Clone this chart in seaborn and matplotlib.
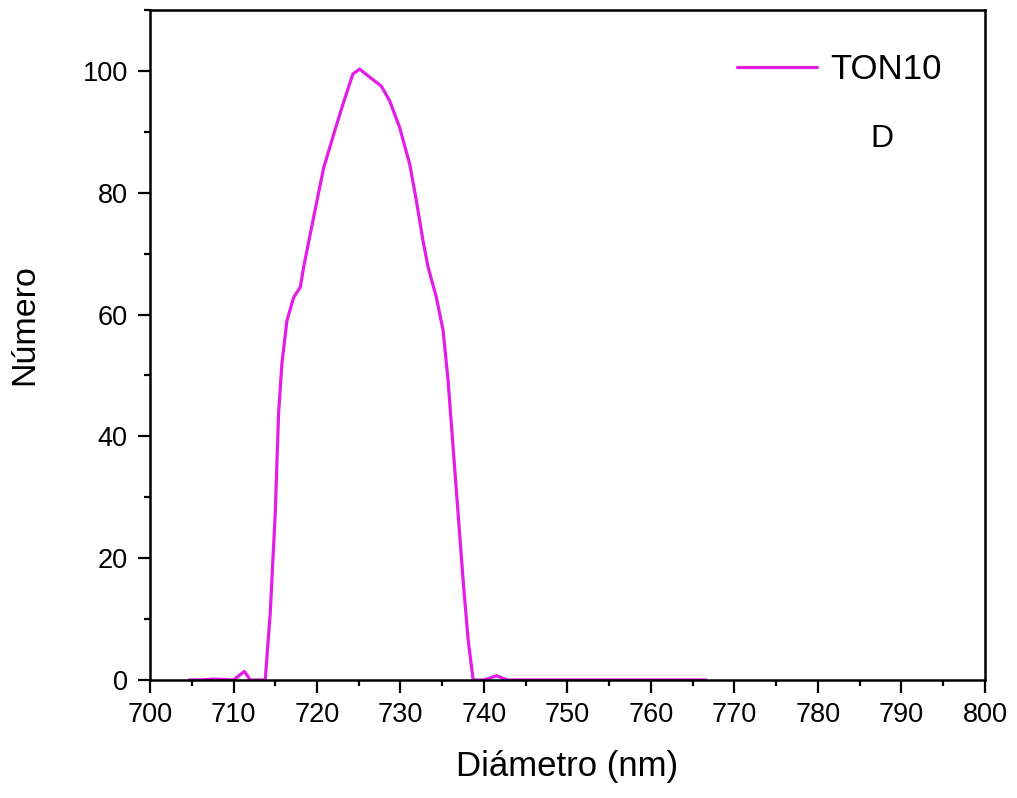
import matplotlib
matplotlib.use("Agg")
import matplotlib.pyplot as plt
from matplotlib.ticker import MultipleLocator
import seaborn as sns
import pandas as pd

diametro = [704.7, 706.0, 707.5, 708.5, 710.0, 711.3, 712.0, 713.0, 713.8, 714.4, 715.0, 715.4,
            715.8, 716.4, 717.2, 718.0, 718.4, 719.6, 720.8, 722.0, 723.1, 724.3, 725.1,
            726.1, 727.7, 728.7, 729.9, 731.1, 731.9, 732.7, 733.3, 734.3, 735.1, 735.7,
            736.3, 736.9, 737.5, 738.1, 738.7, 740.0, 741.5, 742.8, 745.0, 750.0, 755.0,
            760.0, 766.6]
numero = [0.0, 0.0, 0.15, 0.1, 0.0, 1.4, 0.0, 0.0, 0.0, 11.0, 27.4, 43.8,
          52.0, 59.0, 62.8, 64.5, 67.8, 76.0, 84.1, 89.6, 94.5, 99.5, 100.3,
          99.2, 97.5, 95.1, 90.7, 84.7, 78.7, 72.1, 67.8, 62.8, 57.4, 49.2,
          38.2, 27.3, 16.4, 6.6, 0.0, 0.0, 0.7, 0.0, 0.0, 0.0, 0.0,
          0.0, 0.0]
serie = "TON10"
panel = "D"
x_label = "Diámetro (nm)"
y_label = "Número"

df = pd.DataFrame({"Diámetro": diametro, "Número": numero, "serie": [serie] * len(diametro)})

sns.set_theme(style="ticks")
plt.rcParams["font.family"] = ["Liberation Sans", "DejaVu Sans"]
plt.rcParams["text.color"] = "black"
plt.rcParams["axes.labelcolor"] = "black"
plt.rcParams["xtick.color"] = "black"
plt.rcParams["ytick.color"] = "black"

fig = plt.figure(figsize=(10.17, 7.98), dpi=100)
ax = fig.add_axes([0.1475, 0.1479, 0.8210, 0.8396])

sns.lineplot(data=df, x="Diámetro", y="Número", hue="serie", palette=["#E31CE8"],
             linewidth=2.3, ax=ax)

ax.set_xlim(700, 800)
ax.set_ylim(0, 110)
ax.xaxis.set_major_locator(MultipleLocator(10))
ax.xaxis.set_minor_locator(MultipleLocator(5))
ax.yaxis.set_major_locator(MultipleLocator(20))
ax.yaxis.set_minor_locator(MultipleLocator(10))
ax.tick_params(axis="both", which="major", direction="out", length=9, width=1.6,
               labelsize=19.5, colors="black", pad=7)
ax.tick_params(axis="both", which="minor", direction="out", length=4.5, width=1.6)
for s in ax.spines.values():
    s.set_linewidth(1.8)
    s.set_color("black")

ax.set_xlabel(x_label, fontsize=25)
ax.set_ylabel(y_label, fontsize=24.5)
ax.xaxis.set_label_coords(0.499, -0.104)
ax.yaxis.set_label_coords(-0.131, 0.531)

leg = ax.legend(loc="upper right", frameon=False, fontsize=25, handlelength=2.3,
                handletextpad=0.4, bbox_to_anchor=(0.986, 0.982))
ax.text(0.877, 0.808, panel, transform=ax.transAxes, fontsize=23, ha="center", va="center")

fig.savefig("out.png", dpi=100)
